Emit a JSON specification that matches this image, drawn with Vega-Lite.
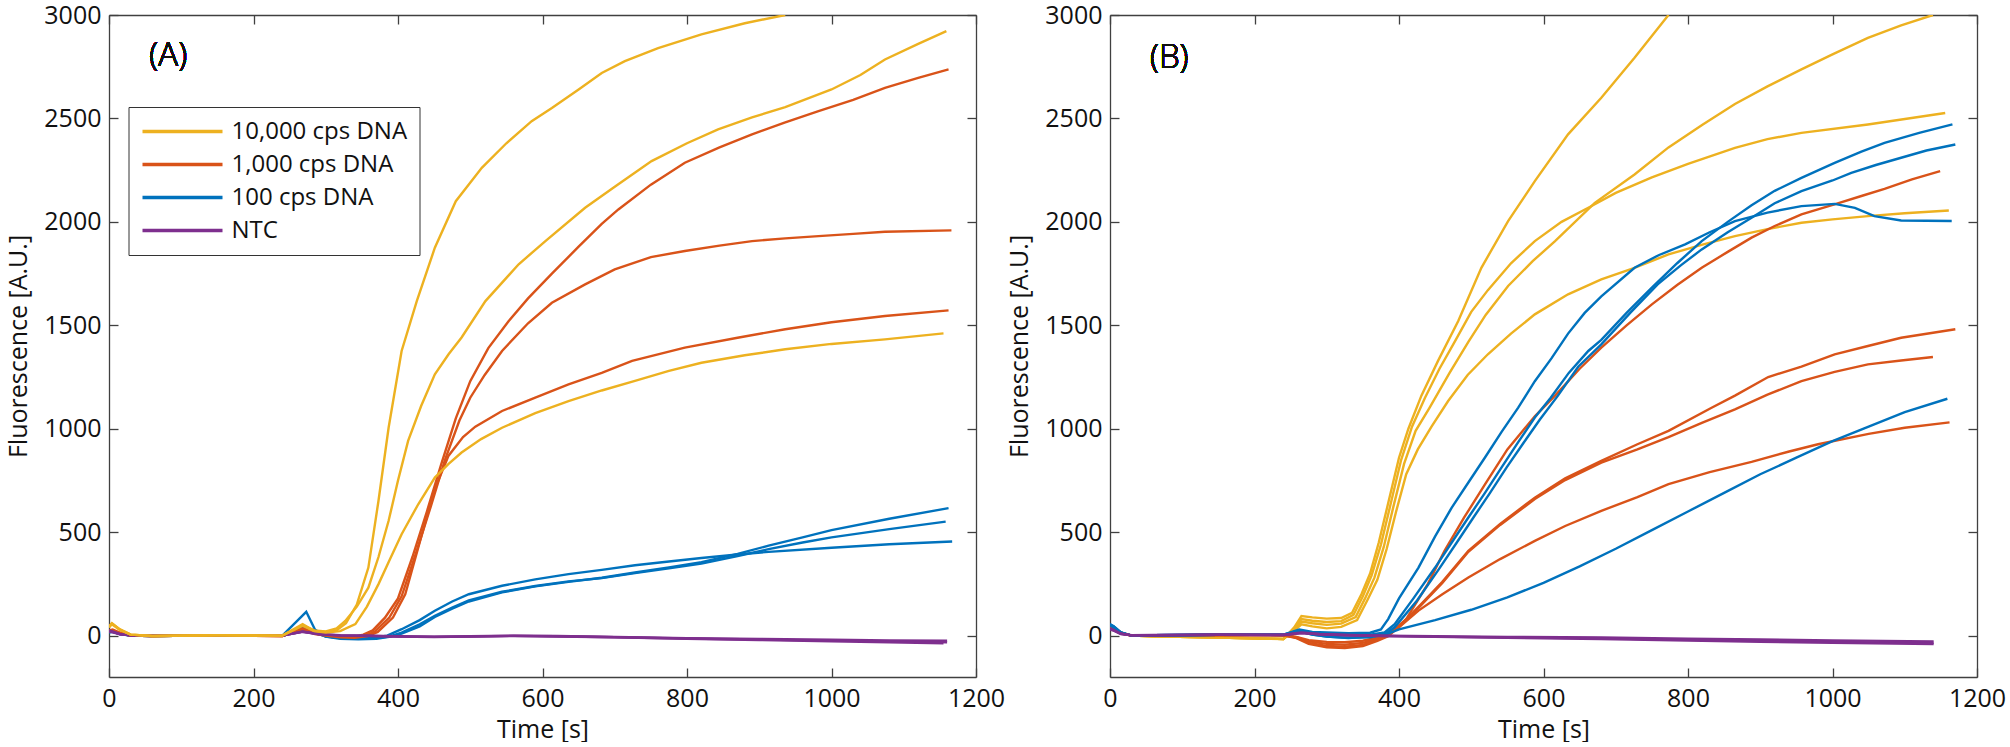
{
"$schema":"https://vega.github.io/schema/vega-lite/v6.json",
"background":"white",
"padding":{"left":6,"top":3,"right":0,"bottom":0},
"config":{"view":{"stroke":null},"font":"Open Sans",
"axis":{"labelFont":"Open Sans","titleFont":"Open Sans","labelFontSize":25,"titleFontSize":25,"titleFontWeight":"normal","labelColor":"#111","titleColor":"#111","domainColor":"#404040","tickColor":"#404040","domainWidth":1.3,"tickWidth":1.3,"tickSize":-9,"grid":false,"labelFlush":false,"labelOverlap":false}},
"datasets":{
"a":[
{"g":"100 cps DNA","r":"B1","t":0,"v":20},{"g":"100 cps DNA","r":"B1","t":5,"v":25},{"g":"100 cps DNA","r":"B1","t":15,"v":10},{"g":"100 cps DNA","r":"B1","t":30,"v":0},{"g":"100 cps DNA","r":"B1","t":60,"v":-2},{"g":"100 cps DNA","r":"B1","t":150,"v":1},{"g":"100 cps DNA","r":"B1","t":240,"v":0},{"g":"100 cps DNA","r":"B1","t":273,"v":115},{"g":"100 cps DNA","r":"B1","t":285,"v":30},{"g":"100 cps DNA","r":"B1","t":300,"v":-5},{"g":"100 cps DNA","r":"B1","t":320,"v":-15},{"g":"100 cps DNA","r":"B1","t":345,"v":-18},{"g":"100 cps DNA","r":"B1","t":370,"v":-15},{"g":"100 cps DNA","r":"B1","t":390,"v":-5},{"g":"100 cps DNA","r":"B1","t":405,"v":10},{"g":"100 cps DNA","r":"B1","t":430,"v":45},{"g":"100 cps DNA","r":"B1","t":451,"v":90},{"g":"100 cps DNA","r":"B1","t":475,"v":130},{"g":"100 cps DNA","r":"B1","t":498,"v":165},{"g":"100 cps DNA","r":"B1","t":544,"v":209},{"g":"100 cps DNA","r":"B1","t":590,"v":238},{"g":"100 cps DNA","r":"B1","t":636,"v":260},{"g":"100 cps DNA","r":"B1","t":682,"v":280},{"g":"100 cps DNA","r":"B1","t":728,"v":305},{"g":"100 cps DNA","r":"B1","t":775,"v":330},{"g":"100 cps DNA","r":"B1","t":820,"v":355},{"g":"100 cps DNA","r":"B1","t":870,"v":395},{"g":"100 cps DNA","r":"B1","t":913,"v":435},{"g":"100 cps DNA","r":"B1","t":960,"v":475},{"g":"100 cps DNA","r":"B1","t":1000,"v":510},{"g":"100 cps DNA","r":"B1","t":1080,"v":565},{"g":"100 cps DNA","r":"B1","t":1162,"v":616},
{"g":"100 cps DNA","r":"B2","t":0,"v":15},{"g":"100 cps DNA","r":"B2","t":5,"v":18},{"g":"100 cps DNA","r":"B2","t":15,"v":8},{"g":"100 cps DNA","r":"B2","t":30,"v":0},{"g":"100 cps DNA","r":"B2","t":60,"v":-2},{"g":"100 cps DNA","r":"B2","t":150,"v":1},{"g":"100 cps DNA","r":"B2","t":240,"v":0},{"g":"100 cps DNA","r":"B2","t":268,"v":40},{"g":"100 cps DNA","r":"B2","t":285,"v":15},{"g":"100 cps DNA","r":"B2","t":300,"v":-5},{"g":"100 cps DNA","r":"B2","t":320,"v":-12},{"g":"100 cps DNA","r":"B2","t":345,"v":-15},{"g":"100 cps DNA","r":"B2","t":370,"v":-12},{"g":"100 cps DNA","r":"B2","t":390,"v":-3},{"g":"100 cps DNA","r":"B2","t":405,"v":15},{"g":"100 cps DNA","r":"B2","t":430,"v":55},{"g":"100 cps DNA","r":"B2","t":451,"v":96},{"g":"100 cps DNA","r":"B2","t":475,"v":135},{"g":"100 cps DNA","r":"B2","t":498,"v":170},{"g":"100 cps DNA","r":"B2","t":544,"v":212},{"g":"100 cps DNA","r":"B2","t":590,"v":240},{"g":"100 cps DNA","r":"B2","t":636,"v":262},{"g":"100 cps DNA","r":"B2","t":682,"v":278},{"g":"100 cps DNA","r":"B2","t":728,"v":302},{"g":"100 cps DNA","r":"B2","t":775,"v":325},{"g":"100 cps DNA","r":"B2","t":820,"v":348},{"g":"100 cps DNA","r":"B2","t":870,"v":385},{"g":"100 cps DNA","r":"B2","t":913,"v":418},{"g":"100 cps DNA","r":"B2","t":960,"v":450},{"g":"100 cps DNA","r":"B2","t":1000,"v":475},{"g":"100 cps DNA","r":"B2","t":1080,"v":515},{"g":"100 cps DNA","r":"B2","t":1158,"v":551},
{"g":"100 cps DNA","r":"B3","t":0,"v":18},{"g":"100 cps DNA","r":"B3","t":5,"v":20},{"g":"100 cps DNA","r":"B3","t":15,"v":8},{"g":"100 cps DNA","r":"B3","t":30,"v":0},{"g":"100 cps DNA","r":"B3","t":60,"v":-2},{"g":"100 cps DNA","r":"B3","t":150,"v":1},{"g":"100 cps DNA","r":"B3","t":240,"v":0},{"g":"100 cps DNA","r":"B3","t":268,"v":38},{"g":"100 cps DNA","r":"B3","t":285,"v":15},{"g":"100 cps DNA","r":"B3","t":300,"v":-3},{"g":"100 cps DNA","r":"B3","t":320,"v":-10},{"g":"100 cps DNA","r":"B3","t":345,"v":-12},{"g":"100 cps DNA","r":"B3","t":370,"v":-8},{"g":"100 cps DNA","r":"B3","t":385,"v":0},{"g":"100 cps DNA","r":"B3","t":405,"v":31},{"g":"100 cps DNA","r":"B3","t":430,"v":75},{"g":"100 cps DNA","r":"B3","t":451,"v":120},{"g":"100 cps DNA","r":"B3","t":475,"v":165},{"g":"100 cps DNA","r":"B3","t":498,"v":200},{"g":"100 cps DNA","r":"B3","t":544,"v":241},{"g":"100 cps DNA","r":"B3","t":590,"v":272},{"g":"100 cps DNA","r":"B3","t":636,"v":297},{"g":"100 cps DNA","r":"B3","t":682,"v":318},{"g":"100 cps DNA","r":"B3","t":728,"v":340},{"g":"100 cps DNA","r":"B3","t":775,"v":358},{"g":"100 cps DNA","r":"B3","t":820,"v":375},{"g":"100 cps DNA","r":"B3","t":870,"v":392},{"g":"100 cps DNA","r":"B3","t":913,"v":405},{"g":"100 cps DNA","r":"B3","t":1000,"v":425},{"g":"100 cps DNA","r":"B3","t":1080,"v":442},{"g":"100 cps DNA","r":"B3","t":1167,"v":455},
{"g":"1,000 cps DNA","r":"O1","t":0,"v":25},{"g":"1,000 cps DNA","r":"O1","t":5,"v":30},{"g":"1,000 cps DNA","r":"O1","t":15,"v":15},{"g":"1,000 cps DNA","r":"O1","t":30,"v":0},{"g":"1,000 cps DNA","r":"O1","t":60,"v":-2},{"g":"1,000 cps DNA","r":"O1","t":150,"v":1},{"g":"1,000 cps DNA","r":"O1","t":240,"v":-2},{"g":"1,000 cps DNA","r":"O1","t":268,"v":35},{"g":"1,000 cps DNA","r":"O1","t":285,"v":12},{"g":"1,000 cps DNA","r":"O1","t":300,"v":5},{"g":"1,000 cps DNA","r":"O1","t":320,"v":-3},{"g":"1,000 cps DNA","r":"O1","t":340,"v":-5},{"g":"1,000 cps DNA","r":"O1","t":352,"v":5},{"g":"1,000 cps DNA","r":"O1","t":365,"v":25},{"g":"1,000 cps DNA","r":"O1","t":382,"v":87},{"g":"1,000 cps DNA","r":"O1","t":400,"v":180},{"g":"1,000 cps DNA","r":"O1","t":420,"v":380},{"g":"1,000 cps DNA","r":"O1","t":440,"v":600},{"g":"1,000 cps DNA","r":"O1","t":460,"v":830},{"g":"1,000 cps DNA","r":"O1","t":480,"v":1050},{"g":"1,000 cps DNA","r":"O1","t":500,"v":1230},{"g":"1,000 cps DNA","r":"O1","t":525,"v":1390},{"g":"1,000 cps DNA","r":"O1","t":553,"v":1520},{"g":"1,000 cps DNA","r":"O1","t":580,"v":1630},{"g":"1,000 cps DNA","r":"O1","t":613,"v":1750},{"g":"1,000 cps DNA","r":"O1","t":650,"v":1880},{"g":"1,000 cps DNA","r":"O1","t":682,"v":1990},{"g":"1,000 cps DNA","r":"O1","t":705,"v":2060},{"g":"1,000 cps DNA","r":"O1","t":750,"v":2180},{"g":"1,000 cps DNA","r":"O1","t":797,"v":2286},{"g":"1,000 cps DNA","r":"O1","t":845,"v":2360},{"g":"1,000 cps DNA","r":"O1","t":890,"v":2423},{"g":"1,000 cps DNA","r":"O1","t":935,"v":2480},{"g":"1,000 cps DNA","r":"O1","t":982,"v":2535},{"g":"1,000 cps DNA","r":"O1","t":1030,"v":2590},{"g":"1,000 cps DNA","r":"O1","t":1074,"v":2648},{"g":"1,000 cps DNA","r":"O1","t":1120,"v":2696},{"g":"1,000 cps DNA","r":"O1","t":1162,"v":2737},
{"g":"1,000 cps DNA","r":"O2","t":0,"v":22},{"g":"1,000 cps DNA","r":"O2","t":5,"v":26},{"g":"1,000 cps DNA","r":"O2","t":15,"v":12},{"g":"1,000 cps DNA","r":"O2","t":30,"v":0},{"g":"1,000 cps DNA","r":"O2","t":60,"v":-2},{"g":"1,000 cps DNA","r":"O2","t":150,"v":1},{"g":"1,000 cps DNA","r":"O2","t":240,"v":-2},{"g":"1,000 cps DNA","r":"O2","t":268,"v":32},{"g":"1,000 cps DNA","r":"O2","t":285,"v":10},{"g":"1,000 cps DNA","r":"O2","t":300,"v":3},{"g":"1,000 cps DNA","r":"O2","t":320,"v":-5},{"g":"1,000 cps DNA","r":"O2","t":340,"v":-7},{"g":"1,000 cps DNA","r":"O2","t":355,"v":0},{"g":"1,000 cps DNA","r":"O2","t":368,"v":20},{"g":"1,000 cps DNA","r":"O2","t":388,"v":87},{"g":"1,000 cps DNA","r":"O2","t":405,"v":190},{"g":"1,000 cps DNA","r":"O2","t":425,"v":400},{"g":"1,000 cps DNA","r":"O2","t":445,"v":620},{"g":"1,000 cps DNA","r":"O2","t":465,"v":850},{"g":"1,000 cps DNA","r":"O2","t":485,"v":1040},{"g":"1,000 cps DNA","r":"O2","t":500,"v":1150},{"g":"1,000 cps DNA","r":"O2","t":520,"v":1260},{"g":"1,000 cps DNA","r":"O2","t":544,"v":1376},{"g":"1,000 cps DNA","r":"O2","t":580,"v":1510},{"g":"1,000 cps DNA","r":"O2","t":613,"v":1609},{"g":"1,000 cps DNA","r":"O2","t":659,"v":1698},{"g":"1,000 cps DNA","r":"O2","t":700,"v":1770},{"g":"1,000 cps DNA","r":"O2","t":750,"v":1830},{"g":"1,000 cps DNA","r":"O2","t":797,"v":1859},{"g":"1,000 cps DNA","r":"O2","t":845,"v":1885},{"g":"1,000 cps DNA","r":"O2","t":890,"v":1907},{"g":"1,000 cps DNA","r":"O2","t":936,"v":1920},{"g":"1,000 cps DNA","r":"O2","t":982,"v":1931},{"g":"1,000 cps DNA","r":"O2","t":1030,"v":1942},{"g":"1,000 cps DNA","r":"O2","t":1074,"v":1952},{"g":"1,000 cps DNA","r":"O2","t":1166,"v":1959},
{"g":"1,000 cps DNA","r":"O3","t":0,"v":20},{"g":"1,000 cps DNA","r":"O3","t":5,"v":24},{"g":"1,000 cps DNA","r":"O3","t":15,"v":10},{"g":"1,000 cps DNA","r":"O3","t":30,"v":0},{"g":"1,000 cps DNA","r":"O3","t":60,"v":-2},{"g":"1,000 cps DNA","r":"O3","t":150,"v":1},{"g":"1,000 cps DNA","r":"O3","t":240,"v":-2},{"g":"1,000 cps DNA","r":"O3","t":268,"v":30},{"g":"1,000 cps DNA","r":"O3","t":285,"v":8},{"g":"1,000 cps DNA","r":"O3","t":300,"v":0},{"g":"1,000 cps DNA","r":"O3","t":320,"v":-8},{"g":"1,000 cps DNA","r":"O3","t":340,"v":-10},{"g":"1,000 cps DNA","r":"O3","t":358,"v":-2},{"g":"1,000 cps DNA","r":"O3","t":372,"v":18},{"g":"1,000 cps DNA","r":"O3","t":393,"v":87},{"g":"1,000 cps DNA","r":"O3","t":410,"v":200},{"g":"1,000 cps DNA","r":"O3","t":430,"v":450},{"g":"1,000 cps DNA","r":"O3","t":450,"v":700},{"g":"1,000 cps DNA","r":"O3","t":470,"v":870},{"g":"1,000 cps DNA","r":"O3","t":490,"v":960},{"g":"1,000 cps DNA","r":"O3","t":507,"v":1010},{"g":"1,000 cps DNA","r":"O3","t":544,"v":1086},{"g":"1,000 cps DNA","r":"O3","t":590,"v":1150},{"g":"1,000 cps DNA","r":"O3","t":636,"v":1215},{"g":"1,000 cps DNA","r":"O3","t":682,"v":1270},{"g":"1,000 cps DNA","r":"O3","t":724,"v":1328},{"g":"1,000 cps DNA","r":"O3","t":797,"v":1392},{"g":"1,000 cps DNA","r":"O3","t":870,"v":1440},{"g":"1,000 cps DNA","r":"O3","t":936,"v":1481},{"g":"1,000 cps DNA","r":"O3","t":1000,"v":1515},{"g":"1,000 cps DNA","r":"O3","t":1074,"v":1545},{"g":"1,000 cps DNA","r":"O3","t":1162,"v":1572},
{"g":"NTC","r":"P1","t":0,"v":25},{"g":"NTC","r":"P1","t":5,"v":20},{"g":"NTC","r":"P1","t":15,"v":8},{"g":"NTC","r":"P1","t":30,"v":2},{"g":"NTC","r":"P1","t":60,"v":0},{"g":"NTC","r":"P1","t":150,"v":1},{"g":"NTC","r":"P1","t":240,"v":0},{"g":"NTC","r":"P1","t":268,"v":20},{"g":"NTC","r":"P1","t":290,"v":8},{"g":"NTC","r":"P1","t":320,"v":2},{"g":"NTC","r":"P1","t":360,"v":0},{"g":"NTC","r":"P1","t":400,"v":-3},{"g":"NTC","r":"P1","t":450,"v":-5},{"g":"NTC","r":"P1","t":500,"v":-3},{"g":"NTC","r":"P1","t":560,"v":0},{"g":"NTC","r":"P1","t":620,"v":-2},{"g":"NTC","r":"P1","t":700,"v":-6},{"g":"NTC","r":"P1","t":800,"v":-12},{"g":"NTC","r":"P1","t":900,"v":-16},{"g":"NTC","r":"P1","t":1000,"v":-20},{"g":"NTC","r":"P1","t":1080,"v":-23},{"g":"NTC","r":"P1","t":1160,"v":-25},
{"g":"NTC","r":"P2","t":0,"v":20},{"g":"NTC","r":"P2","t":5,"v":16},{"g":"NTC","r":"P2","t":15,"v":6},{"g":"NTC","r":"P2","t":30,"v":1},{"g":"NTC","r":"P2","t":60,"v":0},{"g":"NTC","r":"P2","t":150,"v":1},{"g":"NTC","r":"P2","t":240,"v":0},{"g":"NTC","r":"P2","t":268,"v":18},{"g":"NTC","r":"P2","t":290,"v":6},{"g":"NTC","r":"P2","t":320,"v":0},{"g":"NTC","r":"P2","t":360,"v":-2},{"g":"NTC","r":"P2","t":400,"v":-5},{"g":"NTC","r":"P2","t":450,"v":-7},{"g":"NTC","r":"P2","t":500,"v":-5},{"g":"NTC","r":"P2","t":560,"v":-2},{"g":"NTC","r":"P2","t":620,"v":-4},{"g":"NTC","r":"P2","t":700,"v":-8},{"g":"NTC","r":"P2","t":800,"v":-14},{"g":"NTC","r":"P2","t":900,"v":-19},{"g":"NTC","r":"P2","t":1000,"v":-24},{"g":"NTC","r":"P2","t":1080,"v":-28},{"g":"NTC","r":"P2","t":1160,"v":-32},
{"g":"NTC","r":"P3","t":0,"v":22},{"g":"NTC","r":"P3","t":5,"v":18},{"g":"NTC","r":"P3","t":15,"v":7},{"g":"NTC","r":"P3","t":30,"v":1},{"g":"NTC","r":"P3","t":60,"v":0},{"g":"NTC","r":"P3","t":150,"v":1},{"g":"NTC","r":"P3","t":240,"v":0},{"g":"NTC","r":"P3","t":268,"v":19},{"g":"NTC","r":"P3","t":290,"v":7},{"g":"NTC","r":"P3","t":320,"v":1},{"g":"NTC","r":"P3","t":360,"v":-1},{"g":"NTC","r":"P3","t":400,"v":-4},{"g":"NTC","r":"P3","t":450,"v":-6},{"g":"NTC","r":"P3","t":500,"v":-4},{"g":"NTC","r":"P3","t":560,"v":-1},{"g":"NTC","r":"P3","t":620,"v":-3},{"g":"NTC","r":"P3","t":700,"v":-8},{"g":"NTC","r":"P3","t":800,"v":-15},{"g":"NTC","r":"P3","t":900,"v":-21},{"g":"NTC","r":"P3","t":1000,"v":-27},{"g":"NTC","r":"P3","t":1080,"v":-32},{"g":"NTC","r":"P3","t":1155,"v":-37},
{"g":"10,000 cps DNA","r":"Y1","t":0,"v":45},{"g":"10,000 cps DNA","r":"Y1","t":4,"v":60},{"g":"10,000 cps DNA","r":"Y1","t":15,"v":30},{"g":"10,000 cps DNA","r":"Y1","t":30,"v":5},{"g":"10,000 cps DNA","r":"Y1","t":60,"v":-2},{"g":"10,000 cps DNA","r":"Y1","t":150,"v":2},{"g":"10,000 cps DNA","r":"Y1","t":240,"v":0},{"g":"10,000 cps DNA","r":"Y1","t":268,"v":55},{"g":"10,000 cps DNA","r":"Y1","t":284,"v":23},{"g":"10,000 cps DNA","r":"Y1","t":300,"v":18},{"g":"10,000 cps DNA","r":"Y1","t":315,"v":25},{"g":"10,000 cps DNA","r":"Y1","t":328,"v":60},{"g":"10,000 cps DNA","r":"Y1","t":343,"v":150},{"g":"10,000 cps DNA","r":"Y1","t":359,"v":329},{"g":"10,000 cps DNA","r":"Y1","t":373,"v":652},{"g":"10,000 cps DNA","r":"Y1","t":387,"v":1005},{"g":"10,000 cps DNA","r":"Y1","t":405,"v":1376},{"g":"10,000 cps DNA","r":"Y1","t":426,"v":1617},{"g":"10,000 cps DNA","r":"Y1","t":451,"v":1875},{"g":"10,000 cps DNA","r":"Y1","t":480,"v":2100},{"g":"10,000 cps DNA","r":"Y1","t":516,"v":2261},{"g":"10,000 cps DNA","r":"Y1","t":550,"v":2380},{"g":"10,000 cps DNA","r":"Y1","t":585,"v":2487},{"g":"10,000 cps DNA","r":"Y1","t":613,"v":2551},{"g":"10,000 cps DNA","r":"Y1","t":650,"v":2640},{"g":"10,000 cps DNA","r":"Y1","t":682,"v":2720},{"g":"10,000 cps DNA","r":"Y1","t":714,"v":2777},{"g":"10,000 cps DNA","r":"Y1","t":760,"v":2840},{"g":"10,000 cps DNA","r":"Y1","t":820,"v":2906},{"g":"10,000 cps DNA","r":"Y1","t":880,"v":2960},{"g":"10,000 cps DNA","r":"Y1","t":936,"v":3000},
{"g":"10,000 cps DNA","r":"Y2","t":0,"v":40},{"g":"10,000 cps DNA","r":"Y2","t":4,"v":55},{"g":"10,000 cps DNA","r":"Y2","t":15,"v":28},{"g":"10,000 cps DNA","r":"Y2","t":30,"v":5},{"g":"10,000 cps DNA","r":"Y2","t":60,"v":-2},{"g":"10,000 cps DNA","r":"Y2","t":150,"v":2},{"g":"10,000 cps DNA","r":"Y2","t":240,"v":0},{"g":"10,000 cps DNA","r":"Y2","t":268,"v":50},{"g":"10,000 cps DNA","r":"Y2","t":284,"v":25},{"g":"10,000 cps DNA","r":"Y2","t":300,"v":20},{"g":"10,000 cps DNA","r":"Y2","t":315,"v":35},{"g":"10,000 cps DNA","r":"Y2","t":327,"v":71},{"g":"10,000 cps DNA","r":"Y2","t":343,"v":140},{"g":"10,000 cps DNA","r":"Y2","t":359,"v":232},{"g":"10,000 cps DNA","r":"Y2","t":373,"v":380},{"g":"10,000 cps DNA","r":"Y2","t":387,"v":555},{"g":"10,000 cps DNA","r":"Y2","t":400,"v":750},{"g":"10,000 cps DNA","r":"Y2","t":414,"v":941},{"g":"10,000 cps DNA","r":"Y2","t":432,"v":1110},{"g":"10,000 cps DNA","r":"Y2","t":451,"v":1263},{"g":"10,000 cps DNA","r":"Y2","t":470,"v":1360},{"g":"10,000 cps DNA","r":"Y2","t":488,"v":1441},{"g":"10,000 cps DNA","r":"Y2","t":521,"v":1617},{"g":"10,000 cps DNA","r":"Y2","t":567,"v":1795},{"g":"10,000 cps DNA","r":"Y2","t":604,"v":1907},{"g":"10,000 cps DNA","r":"Y2","t":659,"v":2068},{"g":"10,000 cps DNA","r":"Y2","t":700,"v":2170},{"g":"10,000 cps DNA","r":"Y2","t":751,"v":2294},{"g":"10,000 cps DNA","r":"Y2","t":800,"v":2380},{"g":"10,000 cps DNA","r":"Y2","t":843,"v":2447},{"g":"10,000 cps DNA","r":"Y2","t":890,"v":2505},{"g":"10,000 cps DNA","r":"Y2","t":936,"v":2555},{"g":"10,000 cps DNA","r":"Y2","t":1000,"v":2640},{"g":"10,000 cps DNA","r":"Y2","t":1040,"v":2710},{"g":"10,000 cps DNA","r":"Y2","t":1074,"v":2785},{"g":"10,000 cps DNA","r":"Y2","t":1120,"v":2860},{"g":"10,000 cps DNA","r":"Y2","t":1159,"v":2922},
{"g":"10,000 cps DNA","r":"Y3","t":0,"v":42},{"g":"10,000 cps DNA","r":"Y3","t":4,"v":58},{"g":"10,000 cps DNA","r":"Y3","t":15,"v":30},{"g":"10,000 cps DNA","r":"Y3","t":30,"v":5},{"g":"10,000 cps DNA","r":"Y3","t":60,"v":-2},{"g":"10,000 cps DNA","r":"Y3","t":150,"v":2},{"g":"10,000 cps DNA","r":"Y3","t":240,"v":0},{"g":"10,000 cps DNA","r":"Y3","t":268,"v":48},{"g":"10,000 cps DNA","r":"Y3","t":284,"v":22},{"g":"10,000 cps DNA","r":"Y3","t":300,"v":15},{"g":"10,000 cps DNA","r":"Y3","t":320,"v":22},{"g":"10,000 cps DNA","r":"Y3","t":341,"v":56},{"g":"10,000 cps DNA","r":"Y3","t":357,"v":140},{"g":"10,000 cps DNA","r":"Y3","t":373,"v":249},{"g":"10,000 cps DNA","r":"Y3","t":389,"v":370},{"g":"10,000 cps DNA","r":"Y3","t":405,"v":490},{"g":"10,000 cps DNA","r":"Y3","t":428,"v":635},{"g":"10,000 cps DNA","r":"Y3","t":451,"v":764},{"g":"10,000 cps DNA","r":"Y3","t":470,"v":830},{"g":"10,000 cps DNA","r":"Y3","t":488,"v":885},{"g":"10,000 cps DNA","r":"Y3","t":515,"v":950},{"g":"10,000 cps DNA","r":"Y3","t":544,"v":1005},{"g":"10,000 cps DNA","r":"Y3","t":590,"v":1075},{"g":"10,000 cps DNA","r":"Y3","t":636,"v":1134},{"g":"10,000 cps DNA","r":"Y3","t":682,"v":1185},{"g":"10,000 cps DNA","r":"Y3","t":728,"v":1231},{"g":"10,000 cps DNA","r":"Y3","t":775,"v":1280},{"g":"10,000 cps DNA","r":"Y3","t":820,"v":1319},{"g":"10,000 cps DNA","r":"Y3","t":880,"v":1355},{"g":"10,000 cps DNA","r":"Y3","t":936,"v":1384},{"g":"10,000 cps DNA","r":"Y3","t":1000,"v":1410},{"g":"10,000 cps DNA","r":"Y3","t":1074,"v":1432},{"g":"10,000 cps DNA","r":"Y3","t":1155,"v":1461}
],
"b":[
{"g":"10,000 cps DNA","r":"Y1","t":0,"v":50},{"g":"10,000 cps DNA","r":"Y1","t":5,"v":40},{"g":"10,000 cps DNA","r":"Y1","t":15,"v":15},{"g":"10,000 cps DNA","r":"Y1","t":30,"v":0},{"g":"10,000 cps DNA","r":"Y1","t":60,"v":-3},{"g":"10,000 cps DNA","r":"Y1","t":150,"v":-9},{"g":"10,000 cps DNA","r":"Y1","t":240,"v":-17},{"g":"10,000 cps DNA","r":"Y1","t":255,"v":40},{"g":"10,000 cps DNA","r":"Y1","t":265,"v":95},{"g":"10,000 cps DNA","r":"Y1","t":280,"v":88},{"g":"10,000 cps DNA","r":"Y1","t":300,"v":82},{"g":"10,000 cps DNA","r":"Y1","t":320,"v":85},{"g":"10,000 cps DNA","r":"Y1","t":335,"v":110},{"g":"10,000 cps DNA","r":"Y1","t":348,"v":200},{"g":"10,000 cps DNA","r":"Y1","t":360,"v":300},{"g":"10,000 cps DNA","r":"Y1","t":372,"v":450},{"g":"10,000 cps DNA","r":"Y1","t":385,"v":640},{"g":"10,000 cps DNA","r":"Y1","t":400,"v":860},{"g":"10,000 cps DNA","r":"Y1","t":413,"v":1000},{"g":"10,000 cps DNA","r":"Y1","t":431,"v":1160},{"g":"10,000 cps DNA","r":"Y1","t":454,"v":1328},{"g":"10,000 cps DNA","r":"Y1","t":482,"v":1521},{"g":"10,000 cps DNA","r":"Y1","t":514,"v":1778},{"g":"10,000 cps DNA","r":"Y1","t":551,"v":2004},{"g":"10,000 cps DNA","r":"Y1","t":588,"v":2197},{"g":"10,000 cps DNA","r":"Y1","t":634,"v":2423},{"g":"10,000 cps DNA","r":"Y1","t":680,"v":2600},{"g":"10,000 cps DNA","r":"Y1","t":726,"v":2793},{"g":"10,000 cps DNA","r":"Y1","t":773,"v":3000},
{"g":"10,000 cps DNA","r":"Y2","t":0,"v":46},{"g":"10,000 cps DNA","r":"Y2","t":5,"v":36},{"g":"10,000 cps DNA","r":"Y2","t":15,"v":13},{"g":"10,000 cps DNA","r":"Y2","t":30,"v":0},{"g":"10,000 cps DNA","r":"Y2","t":60,"v":-3},{"g":"10,000 cps DNA","r":"Y2","t":150,"v":-9},{"g":"10,000 cps DNA","r":"Y2","t":240,"v":-16},{"g":"10,000 cps DNA","r":"Y2","t":255,"v":30},{"g":"10,000 cps DNA","r":"Y2","t":265,"v":68},{"g":"10,000 cps DNA","r":"Y2","t":280,"v":60},{"g":"10,000 cps DNA","r":"Y2","t":300,"v":52},{"g":"10,000 cps DNA","r":"Y2","t":320,"v":58},{"g":"10,000 cps DNA","r":"Y2","t":340,"v":90},{"g":"10,000 cps DNA","r":"Y2","t":353,"v":180},{"g":"10,000 cps DNA","r":"Y2","t":366,"v":280},{"g":"10,000 cps DNA","r":"Y2","t":379,"v":430},{"g":"10,000 cps DNA","r":"Y2","t":392,"v":620},{"g":"10,000 cps DNA","r":"Y2","t":407,"v":830},{"g":"10,000 cps DNA","r":"Y2","t":423,"v":990},{"g":"10,000 cps DNA","r":"Y2","t":442,"v":1100},{"g":"10,000 cps DNA","r":"Y2","t":470,"v":1270},{"g":"10,000 cps DNA","r":"Y2","t":496,"v":1420},{"g":"10,000 cps DNA","r":"Y2","t":520,"v":1550},{"g":"10,000 cps DNA","r":"Y2","t":551,"v":1690},{"g":"10,000 cps DNA","r":"Y2","t":585,"v":1810},{"g":"10,000 cps DNA","r":"Y2","t":616,"v":1907},{"g":"10,000 cps DNA","r":"Y2","t":671,"v":2092},{"g":"10,000 cps DNA","r":"Y2","t":726,"v":2229},{"g":"10,000 cps DNA","r":"Y2","t":773,"v":2360},{"g":"10,000 cps DNA","r":"Y2","t":820,"v":2470},{"g":"10,000 cps DNA","r":"Y2","t":865,"v":2570},{"g":"10,000 cps DNA","r":"Y2","t":910,"v":2655},{"g":"10,000 cps DNA","r":"Y2","t":957,"v":2737},{"g":"10,000 cps DNA","r":"Y2","t":1000,"v":2810},{"g":"10,000 cps DNA","r":"Y2","t":1049,"v":2889},{"g":"10,000 cps DNA","r":"Y2","t":1095,"v":2950},{"g":"10,000 cps DNA","r":"Y2","t":1139,"v":3000},
{"g":"10,000 cps DNA","r":"Y3","t":0,"v":48},{"g":"10,000 cps DNA","r":"Y3","t":5,"v":38},{"g":"10,000 cps DNA","r":"Y3","t":15,"v":14},{"g":"10,000 cps DNA","r":"Y3","t":30,"v":0},{"g":"10,000 cps DNA","r":"Y3","t":60,"v":-3},{"g":"10,000 cps DNA","r":"Y3","t":150,"v":-9},{"g":"10,000 cps DNA","r":"Y3","t":240,"v":-16},{"g":"10,000 cps DNA","r":"Y3","t":255,"v":35},{"g":"10,000 cps DNA","r":"Y3","t":265,"v":80},{"g":"10,000 cps DNA","r":"Y3","t":280,"v":72},{"g":"10,000 cps DNA","r":"Y3","t":300,"v":66},{"g":"10,000 cps DNA","r":"Y3","t":320,"v":70},{"g":"10,000 cps DNA","r":"Y3","t":337,"v":100},{"g":"10,000 cps DNA","r":"Y3","t":350,"v":190},{"g":"10,000 cps DNA","r":"Y3","t":362,"v":290},{"g":"10,000 cps DNA","r":"Y3","t":375,"v":440},{"g":"10,000 cps DNA","r":"Y3","t":388,"v":630},{"g":"10,000 cps DNA","r":"Y3","t":403,"v":850},{"g":"10,000 cps DNA","r":"Y3","t":418,"v":1010},{"g":"10,000 cps DNA","r":"Y3","t":436,"v":1150},{"g":"10,000 cps DNA","r":"Y3","t":456,"v":1290},{"g":"10,000 cps DNA","r":"Y3","t":477,"v":1420},{"g":"10,000 cps DNA","r":"Y3","t":500,"v":1565},{"g":"10,000 cps DNA","r":"Y3","t":523,"v":1670},{"g":"10,000 cps DNA","r":"Y3","t":555,"v":1800},{"g":"10,000 cps DNA","r":"Y3","t":588,"v":1907},{"g":"10,000 cps DNA","r":"Y3","t":625,"v":2000},{"g":"10,000 cps DNA","r":"Y3","t":662,"v":2068},{"g":"10,000 cps DNA","r":"Y3","t":700,"v":2140},{"g":"10,000 cps DNA","r":"Y3","t":750,"v":2215},{"g":"10,000 cps DNA","r":"Y3","t":800,"v":2280},{"g":"10,000 cps DNA","r":"Y3","t":865,"v":2358},{"g":"10,000 cps DNA","r":"Y3","t":910,"v":2400},{"g":"10,000 cps DNA","r":"Y3","t":957,"v":2430},{"g":"10,000 cps DNA","r":"Y3","t":1049,"v":2471},{"g":"10,000 cps DNA","r":"Y3","t":1156,"v":2526},
{"g":"10,000 cps DNA","r":"Y4","t":0,"v":44},{"g":"10,000 cps DNA","r":"Y4","t":5,"v":34},{"g":"10,000 cps DNA","r":"Y4","t":15,"v":12},{"g":"10,000 cps DNA","r":"Y4","t":30,"v":0},{"g":"10,000 cps DNA","r":"Y4","t":60,"v":-3},{"g":"10,000 cps DNA","r":"Y4","t":150,"v":-9},{"g":"10,000 cps DNA","r":"Y4","t":240,"v":-16},{"g":"10,000 cps DNA","r":"Y4","t":255,"v":25},{"g":"10,000 cps DNA","r":"Y4","t":265,"v":55},{"g":"10,000 cps DNA","r":"Y4","t":280,"v":45},{"g":"10,000 cps DNA","r":"Y4","t":300,"v":35},{"g":"10,000 cps DNA","r":"Y4","t":320,"v":42},{"g":"10,000 cps DNA","r":"Y4","t":342,"v":75},{"g":"10,000 cps DNA","r":"Y4","t":356,"v":170},{"g":"10,000 cps DNA","r":"Y4","t":370,"v":270},{"g":"10,000 cps DNA","r":"Y4","t":383,"v":420},{"g":"10,000 cps DNA","r":"Y4","t":396,"v":600},{"g":"10,000 cps DNA","r":"Y4","t":410,"v":780},{"g":"10,000 cps DNA","r":"Y4","t":426,"v":900},{"g":"10,000 cps DNA","r":"Y4","t":445,"v":1010},{"g":"10,000 cps DNA","r":"Y4","t":468,"v":1134},{"g":"10,000 cps DNA","r":"Y4","t":495,"v":1260},{"g":"10,000 cps DNA","r":"Y4","t":523,"v":1360},{"g":"10,000 cps DNA","r":"Y4","t":555,"v":1460},{"g":"10,000 cps DNA","r":"Y4","t":588,"v":1553},{"g":"10,000 cps DNA","r":"Y4","t":634,"v":1650},{"g":"10,000 cps DNA","r":"Y4","t":680,"v":1722},{"g":"10,000 cps DNA","r":"Y4","t":726,"v":1778},{"g":"10,000 cps DNA","r":"Y4","t":773,"v":1843},{"g":"10,000 cps DNA","r":"Y4","t":820,"v":1890},{"g":"10,000 cps DNA","r":"Y4","t":865,"v":1931},{"g":"10,000 cps DNA","r":"Y4","t":910,"v":1965},{"g":"10,000 cps DNA","r":"Y4","t":957,"v":1996},{"g":"10,000 cps DNA","r":"Y4","t":1000,"v":2012},{"g":"10,000 cps DNA","r":"Y4","t":1049,"v":2028},{"g":"10,000 cps DNA","r":"Y4","t":1100,"v":2042},{"g":"10,000 cps DNA","r":"Y4","t":1161,"v":2055},
{"g":"1,000 cps DNA","r":"O1","t":0,"v":45},{"g":"1,000 cps DNA","r":"O1","t":5,"v":38},{"g":"1,000 cps DNA","r":"O1","t":15,"v":12},{"g":"1,000 cps DNA","r":"O1","t":30,"v":0},{"g":"1,000 cps DNA","r":"O1","t":60,"v":1},{"g":"1,000 cps DNA","r":"O1","t":150,"v":3},{"g":"1,000 cps DNA","r":"O1","t":240,"v":2},{"g":"1,000 cps DNA","r":"O1","t":258,"v":-8},{"g":"1,000 cps DNA","r":"O1","t":275,"v":-28},{"g":"1,000 cps DNA","r":"O1","t":300,"v":-40},{"g":"1,000 cps DNA","r":"O1","t":325,"v":-44},{"g":"1,000 cps DNA","r":"O1","t":350,"v":-35},{"g":"1,000 cps DNA","r":"O1","t":370,"v":-15},{"g":"1,000 cps DNA","r":"O1","t":385,"v":5},{"g":"1,000 cps DNA","r":"O1","t":410,"v":80},{"g":"1,000 cps DNA","r":"O1","t":440,"v":250},{"g":"1,000 cps DNA","r":"O1","t":463,"v":410},{"g":"1,000 cps DNA","r":"O1","t":490,"v":570},{"g":"1,000 cps DNA","r":"O1","t":519,"v":731},{"g":"1,000 cps DNA","r":"O1","t":550,"v":900},{"g":"1,000 cps DNA","r":"O1","t":588,"v":1060},{"g":"1,000 cps DNA","r":"O1","t":616,"v":1160},{"g":"1,000 cps DNA","r":"O1","t":650,"v":1290},{"g":"1,000 cps DNA","r":"O1","t":680,"v":1392},{"g":"1,000 cps DNA","r":"O1","t":715,"v":1500},{"g":"1,000 cps DNA","r":"O1","t":750,"v":1601},{"g":"1,000 cps DNA","r":"O1","t":785,"v":1695},{"g":"1,000 cps DNA","r":"O1","t":819,"v":1778},{"g":"1,000 cps DNA","r":"O1","t":855,"v":1855},{"g":"1,000 cps DNA","r":"O1","t":888,"v":1924},{"g":"1,000 cps DNA","r":"O1","t":920,"v":1980},{"g":"1,000 cps DNA","r":"O1","t":957,"v":2036},{"g":"1,000 cps DNA","r":"O1","t":1005,"v":2087},{"g":"1,000 cps DNA","r":"O1","t":1040,"v":2125},{"g":"1,000 cps DNA","r":"O1","t":1072,"v":2160},{"g":"1,000 cps DNA","r":"O1","t":1110,"v":2205},{"g":"1,000 cps DNA","r":"O1","t":1149,"v":2245},
{"g":"1,000 cps DNA","r":"O2","t":0,"v":44},{"g":"1,000 cps DNA","r":"O2","t":5,"v":36},{"g":"1,000 cps DNA","r":"O2","t":15,"v":12},{"g":"1,000 cps DNA","r":"O2","t":30,"v":0},{"g":"1,000 cps DNA","r":"O2","t":60,"v":1},{"g":"1,000 cps DNA","r":"O2","t":150,"v":3},{"g":"1,000 cps DNA","r":"O2","t":240,"v":2},{"g":"1,000 cps DNA","r":"O2","t":258,"v":-10},{"g":"1,000 cps DNA","r":"O2","t":275,"v":-35},{"g":"1,000 cps DNA","r":"O2","t":300,"v":-50},{"g":"1,000 cps DNA","r":"O2","t":325,"v":-53},{"g":"1,000 cps DNA","r":"O2","t":350,"v":-45},{"g":"1,000 cps DNA","r":"O2","t":370,"v":-20},{"g":"1,000 cps DNA","r":"O2","t":385,"v":0},{"g":"1,000 cps DNA","r":"O2","t":403,"v":55},{"g":"1,000 cps DNA","r":"O2","t":430,"v":150},{"g":"1,000 cps DNA","r":"O2","t":460,"v":260},{"g":"1,000 cps DNA","r":"O2","t":496,"v":410},{"g":"1,000 cps DNA","r":"O2","t":540,"v":540},{"g":"1,000 cps DNA","r":"O2","t":588,"v":667},{"g":"1,000 cps DNA","r":"O2","t":630,"v":760},{"g":"1,000 cps DNA","r":"O2","t":680,"v":845},{"g":"1,000 cps DNA","r":"O2","t":730,"v":925},{"g":"1,000 cps DNA","r":"O2","t":773,"v":990},{"g":"1,000 cps DNA","r":"O2","t":832,"v":1100},{"g":"1,000 cps DNA","r":"O2","t":865,"v":1160},{"g":"1,000 cps DNA","r":"O2","t":911,"v":1250},{"g":"1,000 cps DNA","r":"O2","t":957,"v":1300},{"g":"1,000 cps DNA","r":"O2","t":1003,"v":1360},{"g":"1,000 cps DNA","r":"O2","t":1049,"v":1400},{"g":"1,000 cps DNA","r":"O2","t":1095,"v":1440},{"g":"1,000 cps DNA","r":"O2","t":1170,"v":1481},
{"g":"1,000 cps DNA","r":"O3","t":0,"v":43},{"g":"1,000 cps DNA","r":"O3","t":5,"v":35},{"g":"1,000 cps DNA","r":"O3","t":15,"v":11},{"g":"1,000 cps DNA","r":"O3","t":30,"v":0},{"g":"1,000 cps DNA","r":"O3","t":60,"v":1},{"g":"1,000 cps DNA","r":"O3","t":150,"v":3},{"g":"1,000 cps DNA","r":"O3","t":240,"v":2},{"g":"1,000 cps DNA","r":"O3","t":258,"v":-12},{"g":"1,000 cps DNA","r":"O3","t":275,"v":-40},{"g":"1,000 cps DNA","r":"O3","t":300,"v":-57},{"g":"1,000 cps DNA","r":"O3","t":325,"v":-60},{"g":"1,000 cps DNA","r":"O3","t":350,"v":-50},{"g":"1,000 cps DNA","r":"O3","t":370,"v":-25},{"g":"1,000 cps DNA","r":"O3","t":385,"v":-3},{"g":"1,000 cps DNA","r":"O3","t":403,"v":52},{"g":"1,000 cps DNA","r":"O3","t":430,"v":145},{"g":"1,000 cps DNA","r":"O3","t":460,"v":255},{"g":"1,000 cps DNA","r":"O3","t":496,"v":405},{"g":"1,000 cps DNA","r":"O3","t":540,"v":535},{"g":"1,000 cps DNA","r":"O3","t":588,"v":660},{"g":"1,000 cps DNA","r":"O3","t":630,"v":752},{"g":"1,000 cps DNA","r":"O3","t":680,"v":836},{"g":"1,000 cps DNA","r":"O3","t":730,"v":900},{"g":"1,000 cps DNA","r":"O3","t":773,"v":960},{"g":"1,000 cps DNA","r":"O3","t":820,"v":1030},{"g":"1,000 cps DNA","r":"O3","t":865,"v":1094},{"g":"1,000 cps DNA","r":"O3","t":910,"v":1165},{"g":"1,000 cps DNA","r":"O3","t":957,"v":1230},{"g":"1,000 cps DNA","r":"O3","t":1003,"v":1275},{"g":"1,000 cps DNA","r":"O3","t":1049,"v":1311},{"g":"1,000 cps DNA","r":"O3","t":1095,"v":1330},{"g":"1,000 cps DNA","r":"O3","t":1139,"v":1347},
{"g":"1,000 cps DNA","r":"O4","t":0,"v":42},{"g":"1,000 cps DNA","r":"O4","t":5,"v":34},{"g":"1,000 cps DNA","r":"O4","t":15,"v":11},{"g":"1,000 cps DNA","r":"O4","t":30,"v":0},{"g":"1,000 cps DNA","r":"O4","t":60,"v":1},{"g":"1,000 cps DNA","r":"O4","t":150,"v":3},{"g":"1,000 cps DNA","r":"O4","t":240,"v":2},{"g":"1,000 cps DNA","r":"O4","t":258,"v":-6},{"g":"1,000 cps DNA","r":"O4","t":275,"v":-22},{"g":"1,000 cps DNA","r":"O4","t":300,"v":-30},{"g":"1,000 cps DNA","r":"O4","t":325,"v":-32},{"g":"1,000 cps DNA","r":"O4","t":350,"v":-25},{"g":"1,000 cps DNA","r":"O4","t":370,"v":-10},{"g":"1,000 cps DNA","r":"O4","t":385,"v":5},{"g":"1,000 cps DNA","r":"O4","t":400,"v":40},{"g":"1,000 cps DNA","r":"O4","t":427,"v":121},{"g":"1,000 cps DNA","r":"O4","t":460,"v":200},{"g":"1,000 cps DNA","r":"O4","t":496,"v":281},{"g":"1,000 cps DNA","r":"O4","t":540,"v":370},{"g":"1,000 cps DNA","r":"O4","t":588,"v":458},{"g":"1,000 cps DNA","r":"O4","t":630,"v":530},{"g":"1,000 cps DNA","r":"O4","t":680,"v":603},{"g":"1,000 cps DNA","r":"O4","t":730,"v":670},{"g":"1,000 cps DNA","r":"O4","t":773,"v":732},{"g":"1,000 cps DNA","r":"O4","t":830,"v":790},{"g":"1,000 cps DNA","r":"O4","t":888,"v":840},{"g":"1,000 cps DNA","r":"O4","t":940,"v":890},{"g":"1,000 cps DNA","r":"O4","t":980,"v":925},{"g":"1,000 cps DNA","r":"O4","t":1050,"v":975},{"g":"1,000 cps DNA","r":"O4","t":1100,"v":1005},{"g":"1,000 cps DNA","r":"O4","t":1162,"v":1031},
{"g":"100 cps DNA","r":"B1","t":0,"v":55},{"g":"100 cps DNA","r":"B1","t":5,"v":45},{"g":"100 cps DNA","r":"B1","t":15,"v":15},{"g":"100 cps DNA","r":"B1","t":30,"v":0},{"g":"100 cps DNA","r":"B1","t":60,"v":2},{"g":"100 cps DNA","r":"B1","t":150,"v":4},{"g":"100 cps DNA","r":"B1","t":240,"v":5},{"g":"100 cps DNA","r":"B1","t":262,"v":25},{"g":"100 cps DNA","r":"B1","t":280,"v":12},{"g":"100 cps DNA","r":"B1","t":300,"v":5},{"g":"100 cps DNA","r":"B1","t":330,"v":2},{"g":"100 cps DNA","r":"B1","t":360,"v":5},{"g":"100 cps DNA","r":"B1","t":380,"v":15},{"g":"100 cps DNA","r":"B1","t":394,"v":55},{"g":"100 cps DNA","r":"B1","t":420,"v":180},{"g":"100 cps DNA","r":"B1","t":450,"v":329},{"g":"100 cps DNA","r":"B1","t":473,"v":450},{"g":"100 cps DNA","r":"B1","t":496,"v":571},{"g":"100 cps DNA","r":"B1","t":519,"v":690},{"g":"100 cps DNA","r":"B1","t":542,"v":813},{"g":"100 cps DNA","r":"B1","t":565,"v":935},{"g":"100 cps DNA","r":"B1","t":588,"v":1054},{"g":"100 cps DNA","r":"B1","t":610,"v":1150},{"g":"100 cps DNA","r":"B1","t":635,"v":1270},{"g":"100 cps DNA","r":"B1","t":662,"v":1376},{"g":"100 cps DNA","r":"B1","t":680,"v":1430},{"g":"100 cps DNA","r":"B1","t":715,"v":1560},{"g":"100 cps DNA","r":"B1","t":750,"v":1682},{"g":"100 cps DNA","r":"B1","t":785,"v":1800},{"g":"100 cps DNA","r":"B1","t":819,"v":1907},{"g":"100 cps DNA","r":"B1","t":855,"v":2000},{"g":"100 cps DNA","r":"B1","t":888,"v":2080},{"g":"100 cps DNA","r":"B1","t":920,"v":2150},{"g":"100 cps DNA","r":"B1","t":957,"v":2213},{"g":"100 cps DNA","r":"B1","t":1003,"v":2285},{"g":"100 cps DNA","r":"B1","t":1040,"v":2340},{"g":"100 cps DNA","r":"B1","t":1072,"v":2382},{"g":"100 cps DNA","r":"B1","t":1120,"v":2430},{"g":"100 cps DNA","r":"B1","t":1166,"v":2471},
{"g":"100 cps DNA","r":"B2","t":0,"v":52},{"g":"100 cps DNA","r":"B2","t":5,"v":42},{"g":"100 cps DNA","r":"B2","t":15,"v":14},{"g":"100 cps DNA","r":"B2","t":30,"v":0},{"g":"100 cps DNA","r":"B2","t":60,"v":2},{"g":"100 cps DNA","r":"B2","t":150,"v":4},{"g":"100 cps DNA","r":"B2","t":240,"v":4},{"g":"100 cps DNA","r":"B2","t":262,"v":22},{"g":"100 cps DNA","r":"B2","t":280,"v":5},{"g":"100 cps DNA","r":"B2","t":300,"v":-5},{"g":"100 cps DNA","r":"B2","t":330,"v":-10},{"g":"100 cps DNA","r":"B2","t":360,"v":-8},{"g":"100 cps DNA","r":"B2","t":380,"v":5},{"g":"100 cps DNA","r":"B2","t":394,"v":40},{"g":"100 cps DNA","r":"B2","t":425,"v":170},{"g":"100 cps DNA","r":"B2","t":455,"v":320},{"g":"100 cps DNA","r":"B2","t":480,"v":450},{"g":"100 cps DNA","r":"B2","t":503,"v":571},{"g":"100 cps DNA","r":"B2","t":526,"v":690},{"g":"100 cps DNA","r":"B2","t":549,"v":813},{"g":"100 cps DNA","r":"B2","t":572,"v":930},{"g":"100 cps DNA","r":"B2","t":595,"v":1045},{"g":"100 cps DNA","r":"B2","t":620,"v":1160},{"g":"100 cps DNA","r":"B2","t":648,"v":1300},{"g":"100 cps DNA","r":"B2","t":680,"v":1408},{"g":"100 cps DNA","r":"B2","t":720,"v":1560},{"g":"100 cps DNA","r":"B2","t":758,"v":1698},{"g":"100 cps DNA","r":"B2","t":790,"v":1790},{"g":"100 cps DNA","r":"B2","t":819,"v":1867},{"g":"100 cps DNA","r":"B2","t":855,"v":1950},{"g":"100 cps DNA","r":"B2","t":888,"v":2020},{"g":"100 cps DNA","r":"B2","t":920,"v":2090},{"g":"100 cps DNA","r":"B2","t":957,"v":2149},{"g":"100 cps DNA","r":"B2","t":1000,"v":2200},{"g":"100 cps DNA","r":"B2","t":1026,"v":2237},{"g":"100 cps DNA","r":"B2","t":1060,"v":2275},{"g":"100 cps DNA","r":"B2","t":1095,"v":2310},{"g":"100 cps DNA","r":"B2","t":1130,"v":2345},{"g":"100 cps DNA","r":"B2","t":1170,"v":2374},
{"g":"100 cps DNA","r":"B3","t":0,"v":55},{"g":"100 cps DNA","r":"B3","t":5,"v":45},{"g":"100 cps DNA","r":"B3","t":15,"v":15},{"g":"100 cps DNA","r":"B3","t":30,"v":0},{"g":"100 cps DNA","r":"B3","t":60,"v":2},{"g":"100 cps DNA","r":"B3","t":150,"v":4},{"g":"100 cps DNA","r":"B3","t":240,"v":5},{"g":"100 cps DNA","r":"B3","t":262,"v":30},{"g":"100 cps DNA","r":"B3","t":280,"v":18},{"g":"100 cps DNA","r":"B3","t":300,"v":15},{"g":"100 cps DNA","r":"B3","t":330,"v":12},{"g":"100 cps DNA","r":"B3","t":360,"v":14},{"g":"100 cps DNA","r":"B3","t":375,"v":30},{"g":"100 cps DNA","r":"B3","t":385,"v":80},{"g":"100 cps DNA","r":"B3","t":400,"v":180},{"g":"100 cps DNA","r":"B3","t":427,"v":329},{"g":"100 cps DNA","r":"B3","t":450,"v":480},{"g":"100 cps DNA","r":"B3","t":473,"v":619},{"g":"100 cps DNA","r":"B3","t":496,"v":740},{"g":"100 cps DNA","r":"B3","t":519,"v":861},{"g":"100 cps DNA","r":"B3","t":542,"v":985},{"g":"100 cps DNA","r":"B3","t":565,"v":1102},{"g":"100 cps DNA","r":"B3","t":588,"v":1230},{"g":"100 cps DNA","r":"B3","t":611,"v":1340},{"g":"100 cps DNA","r":"B3","t":634,"v":1460},{"g":"100 cps DNA","r":"B3","t":657,"v":1560},{"g":"100 cps DNA","r":"B3","t":680,"v":1640},{"g":"100 cps DNA","r":"B3","t":726,"v":1778},{"g":"100 cps DNA","r":"B3","t":760,"v":1840},{"g":"100 cps DNA","r":"B3","t":796,"v":1891},{"g":"100 cps DNA","r":"B3","t":830,"v":1950},{"g":"100 cps DNA","r":"B3","t":865,"v":2004},{"g":"100 cps DNA","r":"B3","t":910,"v":2045},{"g":"100 cps DNA","r":"B3","t":957,"v":2076},{"g":"100 cps DNA","r":"B3","t":1003,"v":2087},{"g":"100 cps DNA","r":"B3","t":1031,"v":2068},{"g":"100 cps DNA","r":"B3","t":1058,"v":2028},{"g":"100 cps DNA","r":"B3","t":1095,"v":2007},{"g":"100 cps DNA","r":"B3","t":1165,"v":2004},
{"g":"100 cps DNA","r":"B4","t":0,"v":50},{"g":"100 cps DNA","r":"B4","t":5,"v":40},{"g":"100 cps DNA","r":"B4","t":15,"v":14},{"g":"100 cps DNA","r":"B4","t":30,"v":0},{"g":"100 cps DNA","r":"B4","t":60,"v":2},{"g":"100 cps DNA","r":"B4","t":150,"v":4},{"g":"100 cps DNA","r":"B4","t":240,"v":5},{"g":"100 cps DNA","r":"B4","t":262,"v":20},{"g":"100 cps DNA","r":"B4","t":280,"v":5},{"g":"100 cps DNA","r":"B4","t":300,"v":-5},{"g":"100 cps DNA","r":"B4","t":330,"v":-12},{"g":"100 cps DNA","r":"B4","t":360,"v":-5},{"g":"100 cps DNA","r":"B4","t":385,"v":10},{"g":"100 cps DNA","r":"B4","t":400,"v":30},{"g":"100 cps DNA","r":"B4","t":450,"v":75},{"g":"100 cps DNA","r":"B4","t":500,"v":125},{"g":"100 cps DNA","r":"B4","t":550,"v":185},{"g":"100 cps DNA","r":"B4","t":600,"v":255},{"g":"100 cps DNA","r":"B4","t":650,"v":335},{"g":"100 cps DNA","r":"B4","t":700,"v":420},{"g":"100 cps DNA","r":"B4","t":750,"v":510},{"g":"100 cps DNA","r":"B4","t":800,"v":600},{"g":"100 cps DNA","r":"B4","t":850,"v":690},{"g":"100 cps DNA","r":"B4","t":900,"v":780},{"g":"100 cps DNA","r":"B4","t":950,"v":860},{"g":"100 cps DNA","r":"B4","t":1000,"v":940},{"g":"100 cps DNA","r":"B4","t":1050,"v":1010},{"g":"100 cps DNA","r":"B4","t":1100,"v":1080},{"g":"100 cps DNA","r":"B4","t":1159,"v":1145},
{"g":"NTC","r":"P1","t":0,"v":35},{"g":"NTC","r":"P1","t":5,"v":28},{"g":"NTC","r":"P1","t":15,"v":10},{"g":"NTC","r":"P1","t":30,"v":2},{"g":"NTC","r":"P1","t":60,"v":3},{"g":"NTC","r":"P1","t":150,"v":5},{"g":"NTC","r":"P1","t":240,"v":4},{"g":"NTC","r":"P1","t":265,"v":15},{"g":"NTC","r":"P1","t":290,"v":8},{"g":"NTC","r":"P1","t":330,"v":3},{"g":"NTC","r":"P1","t":380,"v":0},{"g":"NTC","r":"P1","t":450,"v":-3},{"g":"NTC","r":"P1","t":550,"v":-6},{"g":"NTC","r":"P1","t":680,"v":-9},{"g":"NTC","r":"P1","t":800,"v":-15},{"g":"NTC","r":"P1","t":900,"v":-19},{"g":"NTC","r":"P1","t":1000,"v":-23},{"g":"NTC","r":"P1","t":1140,"v":-28},
{"g":"NTC","r":"P2","t":0,"v":30},{"g":"NTC","r":"P2","t":5,"v":24},{"g":"NTC","r":"P2","t":15,"v":8},{"g":"NTC","r":"P2","t":30,"v":1},{"g":"NTC","r":"P2","t":60,"v":2},{"g":"NTC","r":"P2","t":150,"v":4},{"g":"NTC","r":"P2","t":240,"v":3},{"g":"NTC","r":"P2","t":265,"v":12},{"g":"NTC","r":"P2","t":290,"v":6},{"g":"NTC","r":"P2","t":330,"v":1},{"g":"NTC","r":"P2","t":380,"v":-2},{"g":"NTC","r":"P2","t":450,"v":-5},{"g":"NTC","r":"P2","t":550,"v":-9},{"g":"NTC","r":"P2","t":680,"v":-13},{"g":"NTC","r":"P2","t":800,"v":-20},{"g":"NTC","r":"P2","t":900,"v":-25},{"g":"NTC","r":"P2","t":1000,"v":-30},{"g":"NTC","r":"P2","t":1140,"v":-35},
{"g":"NTC","r":"P3","t":0,"v":32},{"g":"NTC","r":"P3","t":5,"v":26},{"g":"NTC","r":"P3","t":15,"v":9},{"g":"NTC","r":"P3","t":30,"v":1},{"g":"NTC","r":"P3","t":60,"v":2},{"g":"NTC","r":"P3","t":150,"v":4},{"g":"NTC","r":"P3","t":240,"v":3},{"g":"NTC","r":"P3","t":265,"v":13},{"g":"NTC","r":"P3","t":290,"v":7},{"g":"NTC","r":"P3","t":330,"v":2},{"g":"NTC","r":"P3","t":380,"v":-2},{"g":"NTC","r":"P3","t":450,"v":-6},{"g":"NTC","r":"P3","t":550,"v":-11},{"g":"NTC","r":"P3","t":680,"v":-16},{"g":"NTC","r":"P3","t":800,"v":-24},{"g":"NTC","r":"P3","t":900,"v":-30},{"g":"NTC","r":"P3","t":1000,"v":-35},{"g":"NTC","r":"P3","t":1140,"v":-41}
]},
"hconcat":[
{"width":867,"height":662,"data":{"name":"a"},
"layer":[
{"mark":{"type":"line","strokeWidth":2.4,"clip":true},
"encoding":{
"x":{"field":"t","type":"quantitative","scale":{"domain":[0,1200],"nice":false},"axis":{"orient":"bottom","values":[0,200,400,600,800,1000,1200],"format":"d","title":"Time [s]","labelPadding":18,"titlePadding":6}},
"y":{"field":"v","type":"quantitative","scale":{"domain":[-200,3000],"nice":false,"zero":false},"axis":{"orient":"left","values":[0,500,1000,1500,2000,2500,3000],"format":"d","title":"Fluorescence [A.U.]","labelPadding":17,"titlePadding":12}},
"color":{"field":"g","type":"nominal","scale":{"domain":["10,000 cps DNA","1,000 cps DNA","100 cps DNA","NTC"],"range":["#EDB120","#D95319","#0072BD","#7E2F8E"]},
"legend":{"orient":"none","legendX":19.5,"legendY":92,"title":null,"symbolType":"stroke","symbolSize":6400,"symbolStrokeWidth":3.5,"labelFont":"Open Sans","labelFontSize":24,"labelColor":"#111","labelLimit":400,"labelOffset":7,"strokeColor":"#333","fillColor":"#ffffff","padding":12,"clipHeight":25,"rowPadding":8}},
"detail":{"field":"r"}}},
{"mark":{"type":"text","text":"(A)","fontSize":33,"fontWeight":300,"font":"Open Sans","color":"#111","align":"center","baseline":"middle"},
"encoding":{
"x":{"datum":82,"type":"quantitative","axis":{"orient":"top","values":[0,200,400,600,800,1000,1200],"labels":false,"title":null}},
"y":{"datum":2800,"type":"quantitative","axis":{"orient":"right","values":[0,500,1000,1500,2000,2500,3000],"labels":false,"title":null}}}}
],
"resolve":{"axis":{"x":"independent","y":"independent"}}},
{"width":867,"height":662,"data":{"name":"b"},
"layer":[
{"mark":{"type":"line","strokeWidth":2.4,"clip":true},
"encoding":{
"x":{"field":"t","type":"quantitative","scale":{"domain":[0,1200],"nice":false},"axis":{"orient":"bottom","values":[0,200,400,600,800,1000,1200],"format":"d","title":"Time [s]","labelPadding":18,"titlePadding":6}},
"y":{"field":"v","type":"quantitative","scale":{"domain":[-200,3000],"nice":false,"zero":false},"axis":{"orient":"left","values":[0,500,1000,1500,2000,2500,3000],"format":"d","title":"Fluorescence [A.U.]","labelPadding":17,"titlePadding":12}},
"color":{"field":"g","type":"nominal","scale":{"domain":["10,000 cps DNA","1,000 cps DNA","100 cps DNA","NTC"],"range":["#EDB120","#D95319","#0072BD","#7E2F8E"]},"legend":null},
"detail":{"field":"r"}}},
{"mark":{"type":"text","text":"(B)","fontSize":33,"fontWeight":300,"font":"Open Sans","color":"#111","align":"center","baseline":"middle"},
"encoding":{
"x":{"datum":82,"type":"quantitative","axis":{"orient":"top","values":[0,200,400,600,800,1000,1200],"labels":false,"title":null}},
"y":{"datum":2790,"type":"quantitative","axis":{"orient":"right","values":[0,500,1000,1500,2000,2500,3000],"labels":false,"title":null}}}}
],
"resolve":{"axis":{"x":"independent","y":"independent"}}}
],
"spacing":134,
"bounds":"flush",
"resolve":{"scale":{"color":"independent"},"legend":{"color":"independent"}}
}
